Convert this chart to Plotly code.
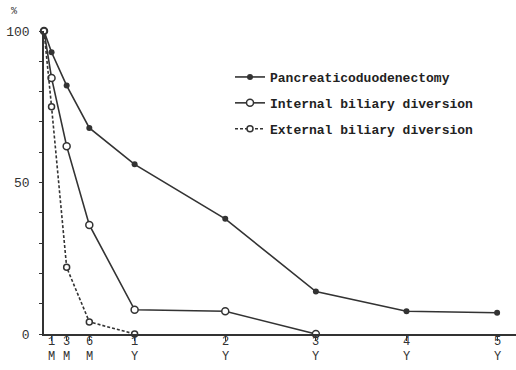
import plotly.graph_objects as go

# time points in months
months_panc = [0, 1, 3, 6, 12, 24, 36, 48, 60]
panc = [100, 93, 82, 68, 56, 38, 14, 7.5, 7]

months_int = [0, 1, 3, 6, 12, 24, 36]
internal = [100, 84.5, 62, 36, 8, 7.5, 0]

months_ext = [0, 1, 3, 6, 12]
external = [100, 75, 22, 4, 0]

x_tick_vals = [1, 3, 6, 12, 24, 36, 48, 60]
x_tick_num = ["1", "3", "6", "1", "2", "3", "4", "5"]
x_tick_unit = ["M", "M", "M", "Y", "Y", "Y", "Y", "Y"]
y_tick_vals = [0, 10, 20, 30, 40, 50, 60, 70, 80, 90, 100]
y_tick_text = ["0", "", "", "", "", "50", "", "", "", "", "100"]

INK = "#333333"
fig = go.Figure()
fig.add_trace(go.Scatter(
    x=months_panc, y=panc, mode="lines+markers", name="Pancreaticoduodenectomy",
    legendgroup="a",
    line=dict(color=INK, width=1.6),
    marker=dict(symbol="circle", size=6, color=INK),
    cliponaxis=False))
fig.add_trace(go.Scatter(
    x=months_int, y=internal, mode="lines+markers", name="Internal biliary diversion",
    legendgroup="b",
    line=dict(color=INK, width=1.6),
    marker=dict(symbol="circle", size=7, color="white", line=dict(color=INK, width=1.5)),
    cliponaxis=False))
fig.add_trace(go.Scatter(
    x=months_ext, y=external, mode="lines+markers", name="External biliary diversion",
    legendgroup="c",
    line=dict(color=INK, width=1.6, dash="3px,2px"),
    marker=dict(symbol="circle", size=6, color="white", line=dict(color=INK, width=1.5)),
    cliponaxis=False))

annotations = [dict(
    text="%", xref="paper", yref="paper", x=(9 - 44) / 472, y=(334 - 11) / 303,
    xanchor="left", yanchor="middle", showarrow=False,
    font=dict(family="Liberation Mono", size=10, color=INK))]
for xv, num, unit in zip(x_tick_vals, x_tick_num, x_tick_unit):
    annotations.append(dict(text=num, x=xv, xref="x", y=0, yref="paper",
                            xanchor="center", yanchor="top", yshift=0, borderpad=0,
                            showarrow=False,
                            font=dict(family="Liberation Mono", size=12, color=INK)))
    annotations.append(dict(text=unit, x=xv, xref="x", y=0, yref="paper",
                            xanchor="center", yanchor="top", yshift=-15, borderpad=0,
                            showarrow=False,
                            font=dict(family="Liberation Mono", size=12, color=INK)))

fig.update_layout(
    width=516, height=370,
    margin=dict(l=44, r=0, t=31, b=36, autoexpand=False),
    paper_bgcolor="white", plot_bgcolor="white",
    font=dict(family="Liberation Mono", color=INK, size=12),
    showlegend=True,
    legend=dict(
        x=(230 - 44) / 472, y=(334 - 62) / 303, xanchor="left", yanchor="top",
        bgcolor="rgba(0,0,0,0)", traceorder="grouped", tracegroupgap=6,
        font=dict(family="Liberation Mono", size=13, color="#222222", weight="bold"),
        itemwidth=30),
    xaxis=dict(
        range=[0, 62.5], showgrid=False, zeroline=False, automargin=False,
        showline=True, linecolor=INK, linewidth=1.5,
        tickmode="array", tickvals=x_tick_vals, showticklabels=False,
        ticks="outside", ticklen=5, tickcolor=INK, tickwidth=1),
    yaxis=dict(
        range=[0, 100], showgrid=False, zeroline=False, automargin=False,
        showline=True, linecolor=INK, linewidth=1.5,
        tickmode="array", tickvals=y_tick_vals, ticktext=y_tick_text,
        ticks="outside", ticklen=3, tickcolor=INK, tickwidth=1,
        tickfont=dict(family="Liberation Mono", size=13, color=INK),
        ticklabelstandoff=7),
    annotations=annotations,
)

fig.write_html("out.html", config={"displayModeBar": False},
               post_script="document.body.style.margin='0';document.body.style.overflow='hidden';")
